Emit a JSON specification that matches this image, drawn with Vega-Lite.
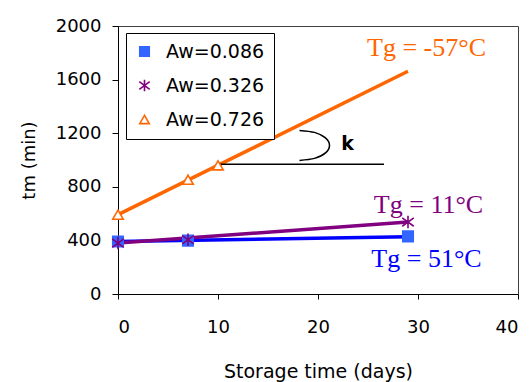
{
  "$schema": "https://vega.github.io/schema/vega-lite/v6.json",
  "width": 400,
  "height": 268,
  "autosize": {"type": "none"},
  "padding": {"left": 118, "top": 26, "right": 13, "bottom": 88},
  "background": "white",
  "config": {
    "view": {"stroke": "#404040", "strokeWidth": 1},
    "axis": {
      "grid": false,
      "domainColor": "black",
      "tickColor": "black",
      "labelColor": "black",
      "titleColor": "black",
      "labelFont": "DejaVu Sans",
      "labelFontSize": 18,
      "titleFont": "DejaVu Sans",
      "titleFontSize": 18,
      "titleFontWeight": "normal"
    }
  },
  "datasets": {
    "points": [
      {"series": "Aw=0.086", "day": 0, "tm": 392},
      {"series": "Aw=0.086", "day": 7, "tm": 398},
      {"series": "Aw=0.086", "day": 29, "tm": 430},
      {"series": "Aw=0.326", "day": 0, "tm": 380},
      {"series": "Aw=0.326", "day": 7, "tm": 405},
      {"series": "Aw=0.326", "day": 29, "tm": 537},
      {"series": "Aw=0.726", "day": 0, "tm": 592},
      {"series": "Aw=0.726", "day": 7, "tm": 853},
      {"series": "Aw=0.726", "day": 10, "tm": 960}
    ],
    "fits": [
      {"series": "Aw=0.086", "day": 0, "tm": 392},
      {"series": "Aw=0.086", "day": 29, "tm": 428},
      {"series": "Aw=0.326", "day": 0, "tm": 380},
      {"series": "Aw=0.326", "day": 29, "tm": 537},
      {"series": "Aw=0.726", "day": 0, "tm": 592},
      {"series": "Aw=0.726", "day": 29, "tm": 1662}
    ],
    "labels": [
      {"series": "Aw=0.086", "label": "Tg = 51°C", "day": 30.85, "tm": 201},
      {"series": "Aw=0.326", "label": "Tg = 11°C", "day": 31.05, "tm": 604},
      {"series": "Aw=0.726", "label": "Tg = -57°C", "day": 30.85, "tm": 1778}
    ],
    "kline": [
      {"day": 10, "tm": 968},
      {"day": 26.6, "tm": 968}
    ],
    "arc": [
      {"i": 0, "day": 18.15, "tm": 1221},
      {"i": 1, "day": 19.65, "tm": 1206},
      {"i": 2, "day": 20.75, "tm": 1165},
      {"i": 3, "day": 21.15, "tm": 1109},
      {"i": 4, "day": 20.75, "tm": 1053},
      {"i": 5, "day": 19.65, "tm": 1012},
      {"i": 6, "day": 18.15, "tm": 997}
    ],
    "k": [
      {"label": "k", "day": 22.95, "tm": 1071}
    ]
  },
  "encoding": {
    "x": {
      "field": "day", "type": "quantitative",
      "scale": {"domain": [0, 40], "nice": false},
      "axis": {"values": [0, 10, 20, 30, 40], "tickSize": 5, "labelPadding": 19,
               "title": "Storage time (days)", "titleFontSize": 19, "titleY": 83, "titleBaseline": "alphabetic"}
    },
    "y": {
      "field": "tm", "type": "quantitative",
      "scale": {"domain": [0, 2000], "nice": false},
      "axis": {"values": [0, 400, 800, 1200, 1600, 2000], "format": "d", "tickSize": 6, "labelPadding": 11,
               "title": "tm (min)", "titlePadding": 17}
    }
  },
  "layer": [
    {
      "data": {"name": "fits"},
      "transform": [{"filter": "datum.series == 'Aw=0.086'"}],
      "mark": {"type": "line", "strokeWidth": 3.5, "color": "#0000FF"},
      "encoding": {}
    },
    {
      "data": {"name": "fits"},
      "transform": [{"filter": "datum.series == 'Aw=0.726'"}],
      "mark": {"type": "line", "strokeWidth": 3.5, "color": "#FF6600"},
      "encoding": {}
    },
    {
      "data": {"name": "fits"},
      "transform": [{"filter": "datum.series == 'Aw=0.326'"}],
      "mark": {"type": "line", "strokeWidth": 3.5, "color": "#800080"},
      "encoding": {}
    },
    {
      "data": {"name": "kline"},
      "mark": {"type": "line", "color": "black", "strokeWidth": 1.5},
      "encoding": {}
    },
    {
      "data": {"name": "arc"},
      "mark": {"type": "line", "color": "black", "strokeWidth": 1.5, "interpolate": "cardinal"},
      "encoding": {"order": {"field": "i", "type": "quantitative"}}
    },
    {
      "data": {"name": "points"},
      "mark": {"type": "point", "size": 110, "strokeWidth": 1.6, "opacity": 1},
      "encoding": {
        "stroke": {"field": "series", "type": "nominal",
          "scale": {"domain": ["Aw=0.086", "Aw=0.326", "Aw=0.726"], "range": ["#3366FF", "#800080", "#FF6600"]},
          "legend": {
            "title": null, "orient": "none", "legendX": 8, "legendY": 7,
            "strokeColor": "black", "fillColor": "white", "padding": 9,
            "labelFont": "DejaVu Sans", "labelFontSize": 19, "labelColor": "black",
            "symbolSize": 90, "symbolStrokeWidth": 1.6, "rowPadding": 14, "labelOffset": 12
          }},
        "fill": {"field": "series", "type": "nominal",
          "scale": {"domain": ["Aw=0.086", "Aw=0.326", "Aw=0.726"], "range": ["#3366FF", "#800080", "#FFFFFF"]}},
        "shape": {"field": "series", "type": "nominal",
          "scale": {"domain": ["Aw=0.086", "Aw=0.326", "Aw=0.726"],
                    "range": ["square", "M0,-1.2L0,1.2M-1.1,-0.8L1.1,0.8M-1.1,0.8L1.1,-0.8", "triangle-up"]}}
      }
    },
    {
      "data": {"name": "labels"},
      "transform": [{"filter": "datum.series == 'Aw=0.086'"}],
      "mark": {"type": "text", "font": "Liberation Serif", "fontSize": 26, "align": "center", "baseline": "alphabetic", "color": "#0000FF"},
      "encoding": {"text": {"field": "label"}}
    },
    {
      "data": {"name": "labels"},
      "transform": [{"filter": "datum.series == 'Aw=0.326'"}],
      "mark": {"type": "text", "font": "Liberation Serif", "fontSize": 26, "align": "center", "baseline": "alphabetic", "color": "#800080"},
      "encoding": {"text": {"field": "label"}}
    },
    {
      "data": {"name": "labels"},
      "transform": [{"filter": "datum.series == 'Aw=0.726'"}],
      "mark": {"type": "text", "font": "Liberation Serif", "fontSize": 26, "align": "center", "baseline": "alphabetic", "color": "#FF6600"},
      "encoding": {"text": {"field": "label"}}
    },
    {
      "data": {"name": "k"},
      "mark": {"type": "text", "font": "DejaVu Sans", "fontSize": 19, "fontWeight": "bold", "align": "center", "baseline": "alphabetic", "color": "black"},
      "encoding": {"text": {"field": "label"}}
    }
  ]
}
